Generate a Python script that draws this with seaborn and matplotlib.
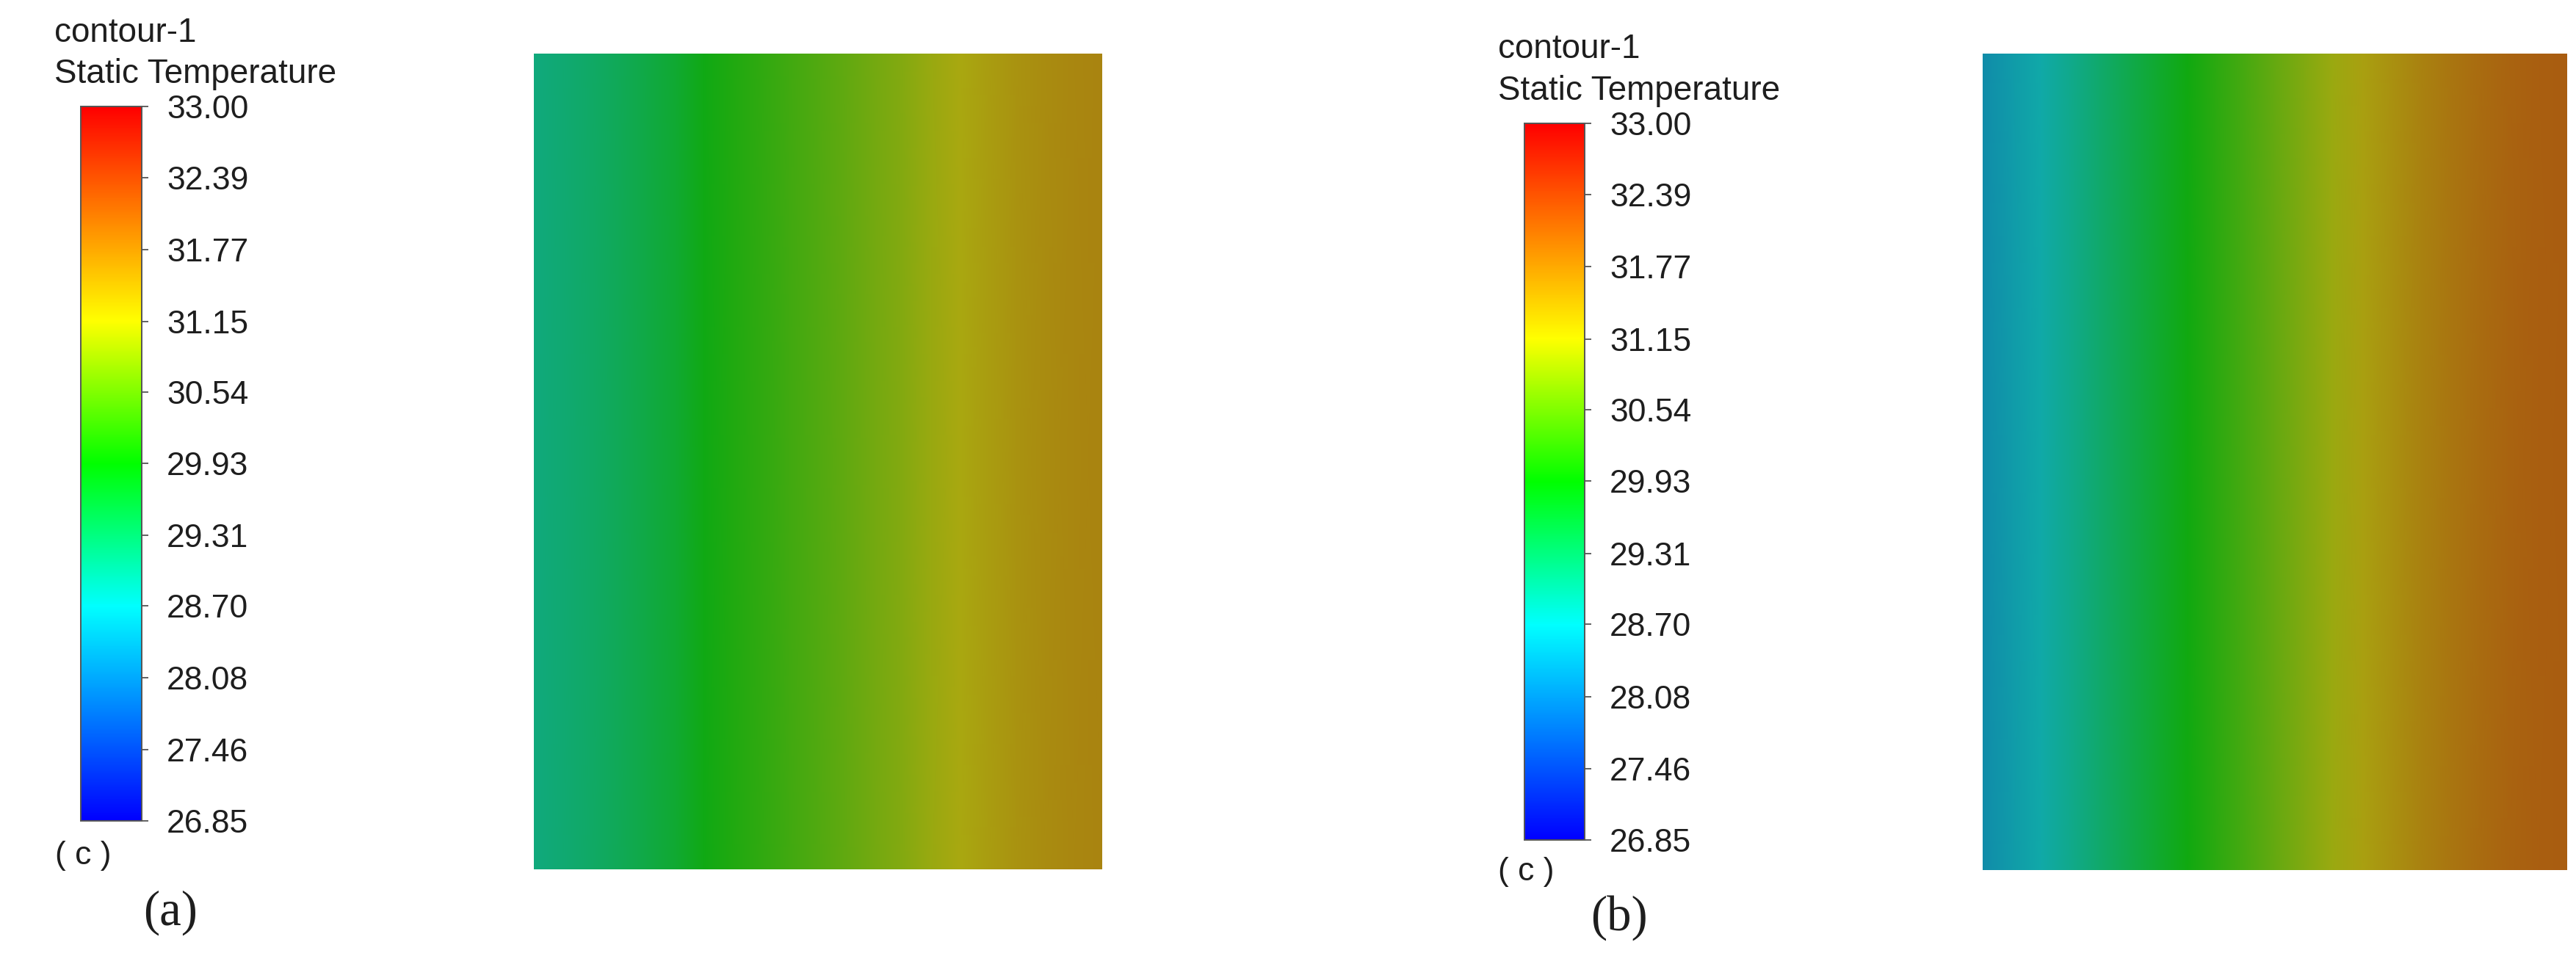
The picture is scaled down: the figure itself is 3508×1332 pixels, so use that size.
import numpy as np
import matplotlib
matplotlib.use("Agg")
import matplotlib.pyplot as plt
from matplotlib.colors import LinearSegmentedColormap, Normalize
from matplotlib.cm import ScalarMappable
import seaborn as sns

# ---------------- data ----------------
t_min, t_max = 26.85, 33.00
tick_values = [26.85, 27.46, 28.08, 28.70, 29.31, 29.93, 30.54, 31.15, 31.77, 32.39, 33.00]
tick_labels = ["26.85", "27.46", "28.08", "28.70", "29.31", "29.93",
               "30.54", "31.15", "31.77", "32.39", "33.00"]

# horizontal position across each plate (fraction of width)
x_frac = [0.00, 0.05, 0.10, 0.15, 0.20, 0.25, 0.30, 0.35, 0.40, 0.45, 0.50,
          0.55, 0.60, 0.65, 0.70, 0.75, 0.80, 0.85, 0.90, 0.95, 1.00]
temp_a = [29.05, 29.14, 29.24, 29.35, 29.50, 29.66, 29.89, 30.05, 30.18, 30.32, 30.45,
          30.58, 30.72, 30.86, 31.02, 31.17, 31.30, 31.42, 31.50, 31.56, 31.60]
temp_b = [28.34, 28.52, 28.70, 28.94, 29.19, 29.44, 29.68, 29.92, 30.15, 30.37, 30.60,
          30.82, 31.04, 31.26, 31.45, 31.62, 31.77, 31.89, 31.98, 32.04, 32.07]

title_line1 = "contour-1"
title_line2 = "Static Temperature"
unit_label = "( c )"
panel_labels = ["(a)", "(b)"]

# ---------------- style ----------------
sns.set_style("white")
plt.rcParams["font.family"] = ["Liberation Sans", "DejaVu Sans"]

W, H = 3508, 1332
fig = plt.figure(figsize=(W / 100, H / 100), dpi=100)
fig.patch.set_facecolor("white")

def fx(px):
    return px / W

def fy(py):
    return 1 - py / H

def box(l, t, r, b):
    return [fx(l), fy(b), fx(r) - fx(l), (b - t) / H]

# Fluent-style rainbow colormap
nodes = [0.0, 0.3, 0.5, 0.7, 1.0]
cols = [(0, 0, 1), (0, 1, 1), (0, 1, 0), (1, 1, 0), (1, 0, 0)]
cmap = LinearSegmentedColormap.from_list("fluent", list(zip(nodes, cols)), N=512)
# shaded version used on the lit plate surface
cols_dark = [tuple(c * 0.6 + 0.063 for c in col) for col in cols]
cmap_dark = LinearSegmentedColormap.from_list("fluent_dark", list(zip(nodes, cols_dark)), N=512)

norm = Normalize(vmin=t_min, vmax=t_max)
txt_col = "#1e1e1e"

panels = [
    dict(temps=temp_a, rect=(727, 73, 1501, 1184), cbar=(110, 145, 193, 1118),
         text_left=74, base1=57, base2=113, unit=(75, 1165), lab=(232, 1243)),
    dict(temps=temp_b, rect=(2700, 73, 3496, 1185), cbar=(2076, 168, 2158, 1144),
         text_left=2040, base1=79, base2=136, unit=(2040, 1188), lab=(2205, 1250)),
]

for i, p in enumerate(panels):
    # ---- plate contour ----
    ax = fig.add_axes(box(*p["rect"]))
    data = np.array([p["temps"], p["temps"]])
    sns.heatmap(data, ax=ax, cmap=cmap_dark, vmin=t_min, vmax=t_max, cbar=False,
                xticklabels=False, yticklabels=False, shading="gouraud")
    ax.set_xlim(0, data.shape[1] - 1)
    ax.set_ylim(data.shape[0] - 1, 0)
    ax.set_axis_off()

    # ---- colour bar ----
    cax = fig.add_axes(box(*p["cbar"]))
    sm = ScalarMappable(norm=norm, cmap=cmap)
    cb = fig.colorbar(sm, cax=cax, orientation="vertical")
    cb.set_ticks(tick_values)
    cb.set_ticklabels(tick_labels)
    cb.outline.set_edgecolor("#555555")
    cb.outline.set_linewidth(1.4)
    cax.tick_params(axis="y", direction="out", length=6.5, width=1.3, colors="#555555",
                    labelcolor=txt_col, labelsize=32, pad=18)
    cax.yaxis.set_ticks_position("right")

    # ---- texts ----
    fig.text(fx(p["text_left"]), fy(p["base1"]), title_line1, fontsize=33,
             color=txt_col, ha="left", va="baseline")
    fig.text(fx(p["text_left"]), fy(p["base2"]), title_line2, fontsize=33,
             color=txt_col, ha="left", va="baseline")
    fig.text(fx(p["unit"][0]), fy(p["unit"][1]), unit_label, fontsize=32,
             color=txt_col, ha="left", va="center")
    fig.text(fx(p["lab"][0]), fy(p["lab"][1]), panel_labels[i], fontsize=48,
             family=["Liberation Serif", "DejaVu Serif"], color=txt_col,
             ha="center", va="center")

fig.savefig("out.png", dpi=100, facecolor="white")
